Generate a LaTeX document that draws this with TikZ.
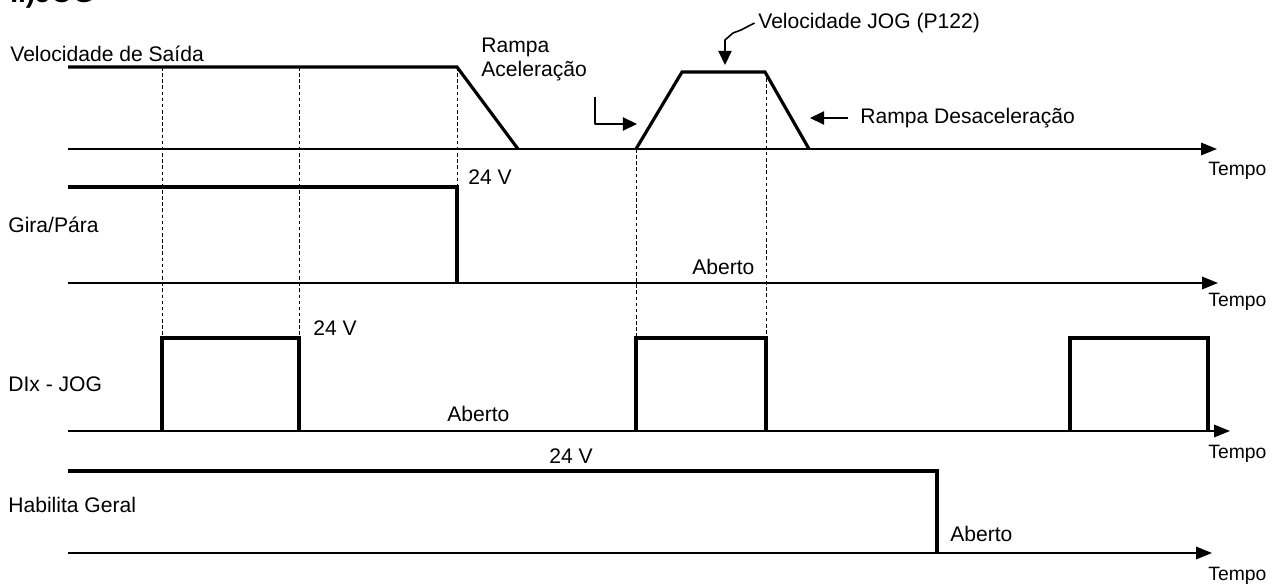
\documentclass[tikz,border=0pt]{standalone}
\usepackage{fontspec}
\setmainfont{Liberation Sans}
\usetikzlibrary{arrows.meta}

\tikzset{
  sigline/.style={line width=1.8pt},
  timeaxis/.style={line width=1.1pt, -{Triangle[length=9pt,width=7pt]}},
  guide/.style={line width=0.55pt, dash pattern=on 2pt off 1.5pt},
  lbl/.style={font=\fontsize{12}{14.2}\selectfont, inner sep=0pt, anchor=west},
  tlbl/.style={font=\fontsize{11}{12}\selectfont, inner sep=0pt, anchor=west},
  callout/.style={line width=0.9pt, line join=round, -{Triangle[length=8pt,width=7.5pt]}}
}

\begin{document}
\begin{tikzpicture}[x=0.02cm, y=-0.02cm]
  \useasboundingbox (0,0) rectangle (1272,588);
  % Title (cut at the top edge)
  \node[font=\fontsize{16}{18}\selectfont\bfseries, inner sep=0pt, anchor=base west] (title) at (10,2.5) {I.)JOG};
  % Dashed guides
  \foreach \x/\ya/\yb in {162/67/338, 299/67/338, 457/67/187, 636/149/338, 766/72/338}
    \draw[guide] (\x,\ya) -- (\x,\yb);
  % Row 1 — Velocidade de Saída
  \draw[timeaxis] (68,149) -- (1217,149);
  \draw[sigline] (68,67) -- (457,67) -- (518,149);
  \draw[sigline] (636,149) -- (682,72) -- (765,72) -- (809,149);
  \node[lbl] (vsai) at (10,54) {Velocidade de Saída};
  \node[lbl, align=left] (racel) at (481,59.5) {Rampa\\Aceleração};
  \node[lbl] (vjog) at (758,23) {Velocidade JOG (P122)};
  \node[lbl] (rdes) at (860,118) {Rampa Desaceleração};
  \node[tlbl] (t1) at (1208,171) {Tempo};
  % Row 2 — Gira/Pára
  \draw[timeaxis] (68,283) -- (1218,283);
  \draw[sigline] (68,187) -- (457,187) -- (457,283);
  \node[lbl] (gira) at (8,225) {Gira/Pára};
  \node[lbl] (g24) at (468,177) {24 V};
  \node[lbl] (gab) at (692,267) {Aberto};
  \node[tlbl] (t2) at (1208,302) {Tempo};
  % Row 3 — DIx - JOG
  \draw[timeaxis] (68,431) -- (1230,431);
  \foreach \xa/\xb in {162/299, 636/766, 1070/1208}
    \draw[sigline] (\xa,431) -- (\xa,338) -- (\xb,338) -- (\xb,431);
  \node[lbl] (dix) at (8,384) {DIx - JOG};
  \node[lbl] (d24) at (313,328) {24 V};
  \node[lbl] (dab) at (447,414) {Aberto};
  \node[tlbl] (t3) at (1208,454) {Tempo};
  % Row 4 — Habilita Geral
  \draw[timeaxis] (68,553) -- (1212,553);
  \draw[sigline] (68,471) -- (937,471) -- (937,553);
  \node[lbl] (hab) at (8,505) {Habilita Geral};
  \node[lbl] (h24) at (549,456) {24 V};
  \node[lbl] (hab0) at (950,534) {Aberto};
  \node[tlbl] (t4) at (1208,576) {Tempo};
  % Callout arrows
  \coordinate (jogtip) at (725,65);
  \coordinate (accS) at (595,97);
  \coordinate (accT) at (637,124);
  \coordinate (destip) at (810,118);
  \draw[callout] ([xshift=-2pt]vjog.west) -- (741,30) -- (733,33) -- (725,40) -- (jogtip);
  \draw[callout] (accS) |- (accT);
  \draw[callout] ([xshift=-7pt]rdes.west) -- (destip);
\end{tikzpicture}
\end{document}
